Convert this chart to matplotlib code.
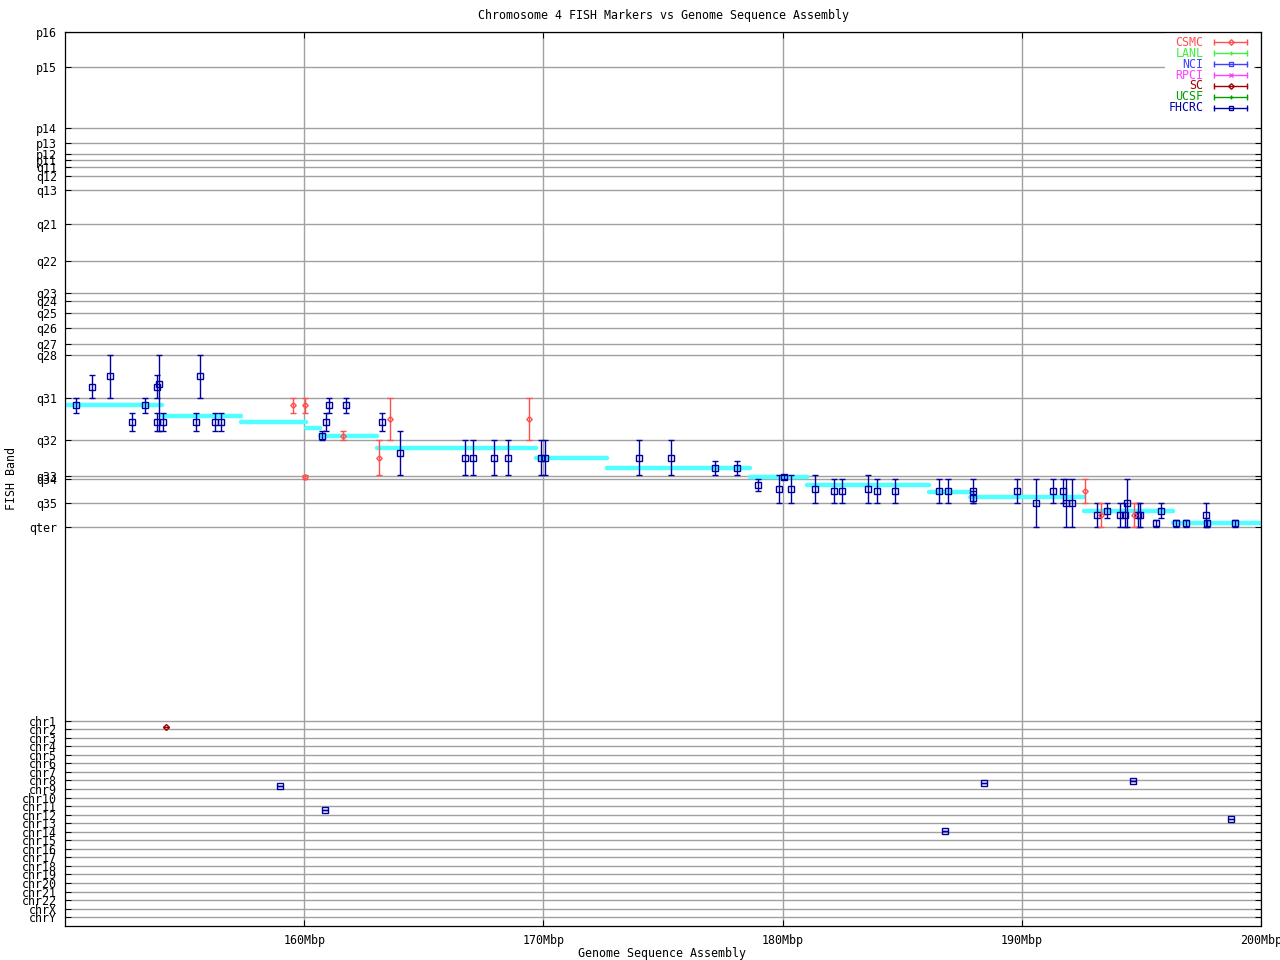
import numpy as np
import matplotlib
matplotlib.use("Agg")
from matplotlib import pyplot as plt
from matplotlib.patches import Rectangle

plt.rcParams["font.family"] = "DejaVu Sans Mono"
plt.rcParams["font.size"] = 8.4

# Band axis (cytogenetic position, p-ter at 0) ─────────────────────────────────
band_labels = ["p16", "p15", "p14", "p13", "p12", "p11", "q11", "q12", "q13", "q21",
               "q22", "q23", "q24", "q25", "q26", "q27", "q28", "q31", "q32", "q33",
               "q34", "q35", "qter"]
band_pos = [0.0, 13.5, 37.1, 42.9, 47.1, 49.4, 52.0, 55.5, 61.0, 74.0,
            88.4, 100.8, 103.9, 108.5, 114.3, 120.5, 124.7, 141.3, 157.5, 171.2,
            172.6, 181.9, 191.1]
chr_labels = ["chr1", "chr2", "chr3", "chr4", "chr5", "chr6", "chr7", "chr8", "chr9",
              "chr10", "chr11", "chr12", "chr13", "chr14", "chr15", "chr16", "chr17",
              "chr18", "chr19", "chr20", "chr21", "chr22", "chrX", "chrY"]
chr_pos = [265.8, 269.1, 272.4, 275.7, 279.0, 282.3, 285.6, 288.9, 292.2, 295.5,
           298.8, 302.1, 305.4, 308.7, 312.0, 315.3, 318.6, 321.9, 325.2, 328.5,
           331.8, 335.1, 338.4, 341.7]

x_ticks = [160, 170, 180, 190, 200]
x_tick_labels = ["160Mbp", "170Mbp", "180Mbp", "190Mbp", "200Mbp"]

# Assembly: sequence segments and their band position ─────────────────────────
seg_start = [149.9, 154.06, 157.36, 160.08, 160.67, 163.04, 169.67, 172.66,
             178.64, 181.03, 186.13, 187.83, 192.61, 196.31]
seg_end = [154.06, 157.36, 160.08, 160.67, 163.04, 169.67, 172.66, 178.64,
           181.03, 186.13, 187.83, 192.61, 196.31, 200.1]
seg_band = [143.9, 148.1, 150.5, 152.8, 155.9, 160.5, 164.4, 168.2,
            171.7, 174.8, 177.5, 179.6, 184.8, 189.5]

# FISH markers: FHCRC ──────────────────────────────────────────────────────────
fhcrc_x = [150.47, 151.14, 151.89, 152.81, 153.36, 153.83, 153.85, 153.94, 154.11,
           155.49, 155.66, 156.28, 156.53, 160.76, 160.92, 161.05, 161.76, 163.26,
           164.02, 166.73, 167.07, 167.95, 168.53, 169.91, 170.08, 174.01, 175.35,
           177.19, 178.11, 178.98, 179.86, 180.07, 180.36, 181.37, 182.16, 182.49,
           183.58, 183.96, 184.71, 186.55, 186.93, 187.97, 187.97, 189.81, 190.61,
           191.32, 191.74, 191.86, 192.11, 193.16, 193.57, 194.12, 194.33, 194.41,
           194.87, 194.95, 195.62, 195.83, 196.46, 196.88, 197.71, 197.76, 198.93]
fhcrc_band = [144.0, 137.1, 132.8, 150.6, 144.0, 150.6, 137.1, 135.9, 150.6,
              150.6, 132.8, 150.6, 150.6, 156.0, 150.6, 144.0, 144.0, 150.6,
              162.4, 164.5, 164.5, 164.5, 164.5, 164.5, 164.5, 164.5, 164.5,
              168.3, 168.3, 174.9, 176.4, 171.8, 176.4, 176.4, 177.2, 177.2,
              176.4, 177.2, 177.2, 177.2, 177.2, 177.2, 179.9, 177.2, 181.9,
              177.2, 177.2, 181.9, 181.9, 186.5, 184.9, 186.5, 186.5, 181.9,
              186.5, 186.5, 189.6, 184.9, 189.6, 189.6, 186.5, 189.6, 189.6]
fhcrc_lo = [141.3, 132.4, 124.7, 147.1, 141.3, 147.1, 132.4, 124.7, 147.1,
            147.1, 124.7, 147.1, 147.1, 154.1, 147.1, 141.3, 141.3, 147.1,
            154.1, 157.5, 157.5, 157.5, 157.5, 157.5, 157.5, 157.5, 157.5,
            165.6, 165.6, 172.6, 171.0, 171.0, 171.0, 171.0, 172.6, 172.6,
            171.0, 172.6, 172.6, 172.6, 172.6, 172.6, 177.2, 172.6, 172.6,
            172.6, 172.6, 172.6, 172.6, 181.9, 181.9, 181.9, 181.9, 172.6,
            181.9, 181.9, 188.4, 181.9, 188.4, 188.4, 181.9, 188.4, 188.4]
fhcrc_hi = [147.1, 141.3, 141.3, 154.1, 147.1, 154.1, 141.3, 154.1, 154.1,
            154.1, 141.3, 154.1, 154.1, 157.5, 154.1, 147.1, 147.1, 154.1,
            171.0, 171.0, 171.0, 171.0, 171.0, 171.0, 171.0, 171.0, 171.0,
            171.0, 171.0, 177.2, 181.9, 172.6, 181.9, 181.9, 181.9, 181.9,
            181.9, 181.9, 181.9, 181.9, 181.9, 181.9, 181.9, 181.9, 191.1,
            181.9, 181.9, 191.1, 191.1, 191.1, 187.6, 191.1, 191.1, 191.1,
            191.1, 191.1, 191.1, 187.6, 191.1, 191.1, 191.1, 191.1, 191.1]

# FISH markers: CSMC
csmc_x = [159.54, 160.05, 160.05, 161.63, 163.14, 163.60, 169.41, 192.65, 193.32, 194.70]
csmc_band = [144.0, 144.0, 171.7, 156.0, 164.5, 149.4, 149.4, 177.2, 186.5, 186.5]
csmc_lo = [141.3, 141.3, 171.0, 154.1, 157.5, 141.3, 141.3, 172.6, 181.9, 181.9]
csmc_hi = [147.1, 147.1, 172.6, 157.5, 171.0, 157.5, 157.5, 181.9, 191.1, 191.1]

# Markers mapped to other chromosomes
fhcrc_other_x = [159.00, 160.88, 186.80, 188.43, 194.66, 198.76]
fhcrc_other_y = [291.1, 300.4, 308.5, 290.0, 289.2, 303.9]
sc_other_x = [154.23]
sc_other_y = [268.3]

labs = ["CSMC", "LANL", "NCI", "RPCI", "SC", "UCSF", "FHCRC"]
lab_colors = ["#ff5050", "#40f040", "#4040ff", "#ff40ff", "#a00000", "#00a000", "#0000a0"]
lab_markers = ["D", "+", "s", "x", "D", "+", "s"]

# Plot──────────────────────────────────────────────────────────────────────────
fig = plt.figure(figsize=(12.8, 9.6), dpi=100)
ax = fig.add_axes([65 / 1280, 1 - 926 / 960, 1196 / 1280, 894 / 960])

ax.set_xlim(150, 200)
ax.set_ylim(345.1, 0)

ax.set_xticks(x_ticks)
ax.set_xticklabels(x_tick_labels)
ax.set_yticks(band_pos + chr_pos)
ax.set_yticklabels(band_labels + chr_labels)
ax.tick_params(axis="both", direction="in", length=4.5, width=0.75,
               left=True, right=True, top=True, bottom=True)
ax.tick_params(axis="y", pad=5.5)
ax.tick_params(axis="x", pad=6)
ax.grid(True, color="#a0a0a0", linewidth=1.0)
ax.set_axisbelow(True)
for sp in ax.spines.values():
    sp.set_linewidth(0.9)

ax.hlines(seg_band, seg_start, seg_end, colors="#50ffff", linewidth=3.2,
          zorder=2, capstyle="round")


def draw_fish(x, y, lo, hi, color, marker, ms):
    y = np.array(y)
    err = [y - np.array(lo), np.array(hi) - y]
    ax.errorbar(x, y, yerr=err, fmt=marker, ms=ms, mfc="none", mec=color, mew=1.0,
                ecolor=color, elinewidth=1.0, capsize=2.3, capthick=1.0, zorder=3)


draw_fish(fhcrc_x, fhcrc_band, fhcrc_lo, fhcrc_hi, lab_colors[6], "s", 4)
draw_fish(csmc_x, csmc_band, csmc_lo, csmc_hi, lab_colors[0], "D", 2.8)
draw_fish(fhcrc_other_x, fhcrc_other_y, fhcrc_other_y, fhcrc_other_y, lab_colors[6], "s", 4)
draw_fish(sc_other_x, sc_other_y, sc_other_y, sc_other_y, lab_colors[4], "D", 3)

# Legend (gnuplot style, horizontal error bar samples)
ax.add_patch(Rectangle((0.92, 0.905), 0.074, 0.095, transform=ax.transAxes,
                       facecolor="white", edgecolor="none", zorder=1))
for i, (lab, col, mk) in enumerate(zip(labs, lab_colors, lab_markers)):
    yy = 0.9884 - i * 0.0122
    ax.text(0.9518, yy, lab, color=col, ha="right", va="center",
            transform=ax.transAxes, zorder=4)
    ax.plot([0.9603, 0.9883], [yy, yy], color=col, lw=1.0, transform=ax.transAxes,
            zorder=4, clip_on=False)
    ax.plot([0.9603, 0.9883], [yy, yy], ls="none", marker="|", ms=5, mew=1.0,
            color=col, transform=ax.transAxes, zorder=4, clip_on=False)
    ax.plot([0.9745], [yy], ls="none", marker=mk, ms=3.5 if mk != "D" else 2.8,
            mfc="none", mec=col, mew=1.0, transform=ax.transAxes, zorder=5)

fig.text(663 / 1280, 1 - 15 / 960, "Chromosome 4 FISH Markers vs Genome Sequence Assembly",
         ha="center", va="center")
fig.text(662 / 1280, 1 - 953 / 960, "Genome Sequence Assembly", ha="center", va="center")
fig.text(12 / 1280, 1 - 478 / 960, "FISH Band", ha="center", va="center", rotation=90)

fig.savefig("out.png", dpi=100)
